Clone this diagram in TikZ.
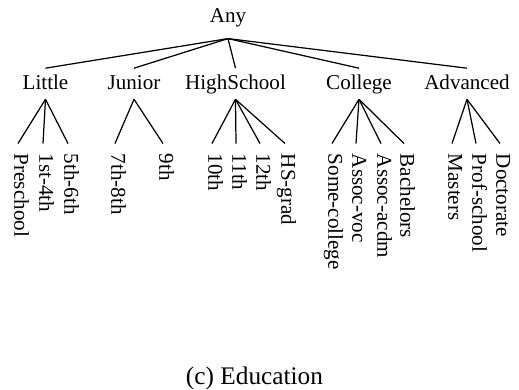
\documentclass[tikz,border=0pt]{standalone}
\usepackage{fontspec}
\setmainfont{Liberation Serif}
\usepackage{tikz}

\begin{document}
\begin{tikzpicture}[-,line width=0.7pt,font=\fontsize{12}{14}\selectfont]
    \tikzstyle{top}=[anchor=base, inner xsep=3pt, inner ysep=6.5pt]
    \tikzstyle{cat}=[anchor=base, inner sep=3pt, text height=8.5pt, text depth=2.5pt]
    \tikzstyle{leaf}=[rotate=-90, anchor=west, inner xsep=5.5pt, inner ysep=1pt, text height=8.5pt, text depth=4.5pt]
    \useasboundingbox (0,0) rectangle (10.38,-7.78);

    \node[top] (any) at (4.56,-0.44) {Any};

    \node[cat] (little)   at (0.91,-1.78) {Little};
    \node[cat] (junior)   at (2.68,-1.78) {Junior};
    \node[cat] (high)     at (4.71,-1.78) {HighSchool};
    \node[cat] (college)  at (7.18,-1.78) {College};
    \node[cat] (advanced) at (9.34,-1.78) {Advanced};

    \node[leaf] (pre)   at (0.36,-2.87)  {Preschool};
    \node[leaf] (g1)    at (0.86,-2.87)  {1st-4th};
    \node[leaf] (g5)    at (1.36,-2.87)  {5th-6th};
    \node[leaf] (g7)    at (2.30,-2.87)  {7th-8th};
    \node[leaf] (g9)    at (3.26,-2.87)  {9th};
    \node[leaf] (g10)   at (4.24,-2.87)  {10th};
    \node[leaf] (g11)   at (4.72,-2.87)  {11th};
    \node[leaf] (g12)   at (5.20,-2.87)  {12th};
    \node[leaf] (hsg)   at (5.70,-2.87)  {HS-grad};
    \node[leaf] (some)  at (6.64,-2.87)  {Some-college};
    \node[leaf] (voc)   at (7.12,-2.87)  {Assoc-voc};
    \node[leaf] (acdm)  at (7.62,-2.87)  {Assoc-acdm};
    \node[leaf] (bach)  at (8.08,-2.87)  {Bachelors};
    \node[leaf] (mast)  at (9.04,-2.87)  {Masters};
    \node[leaf] (prof)  at (9.52,-2.87)  {Prof-school};
    \node[leaf] (doc)   at (10.00,-2.87) {Doctorate};

    \node[anchor=base,font=\fontsize{14.4}{17}\selectfont] (cap) at (5.09,-7.68) {(c) Education};

    \path
     (any.south) edge (little.north)
     (any.south) edge (junior.north)
     (any.south) edge (high.north)
     (any.south) edge (college.north)
     (any.south) edge (advanced.north)
     (little.south) edge (pre.west)
     (little.south) edge (g1.west)
     (little.south) edge (g5.west)
     (junior.south) edge (g7.west)
     (junior.south) edge (g9.west)
     (high.south) edge (g10.west)
     (high.south) edge (g11.west)
     (high.south) edge (g12.west)
     (high.south) edge (hsg.west)
     (college.south) edge (some.west)
     (college.south) edge (voc.west)
     (college.south) edge (acdm.west)
     (college.south) edge (bach.west)
     (advanced.south) edge (mast.west)
     (advanced.south) edge (prof.west)
     (advanced.south) edge (doc.west)
     ;
\end{tikzpicture}
\end{document}
